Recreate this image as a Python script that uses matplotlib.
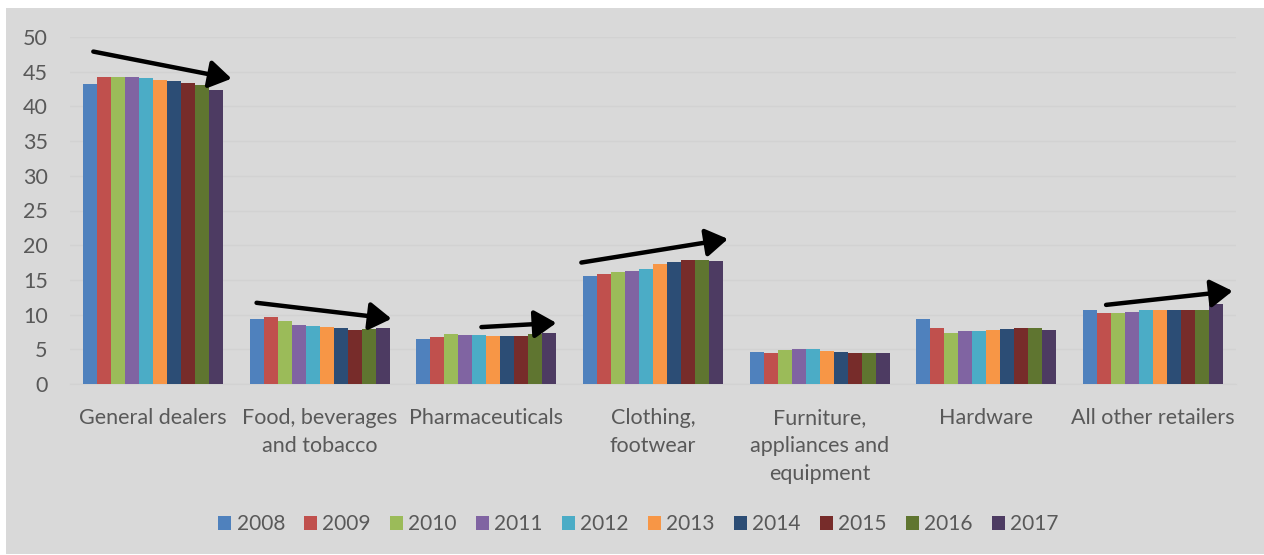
import matplotlib
matplotlib.use("Agg")
import matplotlib.pyplot as plt
import numpy as np
from matplotlib.patches import Rectangle, FancyArrowPatch

plt.rcParams['font.family'] = ['Lato', 'DejaVu Sans']

categories = ["General dealers", "Food, beverages\nand tobacco", "Pharmaceuticals",
              "Clothing,\nfootwear", "Furniture,\nappliances and\nequipment",
              "Hardware", "All other retailers"]
years = ["2008", "2009", "2010", "2011", "2012", "2013", "2014", "2015", "2016", "2017"]

# share per category, one list per year
values = {
    "2008": [43.2, 9.3, 6.5, 15.6, 4.6, 9.4, 10.6],
    "2009": [44.3, 9.6, 6.8, 15.8, 4.4, 8.0, 10.3],
    "2010": [44.3, 9.1, 7.2, 16.1, 4.9, 7.4, 10.2],
    "2011": [44.3, 8.5, 7.0, 16.3, 5.0, 7.6, 10.4],
    "2012": [44.1, 8.4, 7.0, 16.5, 5.0, 7.6, 10.6],
    "2013": [43.8, 8.2, 6.9, 17.3, 4.7, 7.8, 10.6],
    "2014": [43.6, 8.0, 6.9, 17.6, 4.6, 7.9, 10.6],
    "2015": [43.4, 7.8, 6.9, 17.8, 4.5, 8.0, 10.7],
    "2016": [43.1, 7.9, 7.2, 17.9, 4.4, 8.1, 10.6],
    "2017": [42.4, 8.1, 7.3, 17.7, 4.4, 7.8, 11.5],
}
colors = ["#4F81BD", "#C0504D", "#9BBB59", "#8064A2", "#4BACC6",
          "#F79646", "#2C4D75", "#772C2A", "#5F7530", "#4D3B62"]

# trend arrows: (x0, y0) -> (x1, y1) in data units
trends = [
    ((-0.36, 47.9), (0.47, 44.0)),
    ((0.62, 11.7), (1.43, 9.4)),
    ((1.97, 8.2), (2.42, 8.8)),
    ((2.57, 17.5), (3.45, 20.9)),
    ((5.72, 11.4), (6.48, 13.4)),
]

txt = "#595959"
fig = plt.figure(figsize=(12.64, 5.55), dpi=100)
fig.patches.append(Rectangle((6 / 1264, 0.0018), 1, 0.984, transform=fig.transFigure,
                             facecolor="#D9D9D9", edgecolor="none", zorder=-5))

ax = fig.add_axes([70 / 1264, 171 / 555, 1166 / 1264, 347 / 555])
ax.set_facecolor("none")

x = np.arange(len(categories))
bw = 0.084
for i, yr in enumerate(years):
    ax.bar(x + (i - 4.5) * bw, values[yr], bw, color=colors[i], label=yr, zorder=3)

for (x0, y0), (x1, y1) in trends:
    ax.add_patch(FancyArrowPatch((x0, y0), (x1, y1), arrowstyle="-|>,head_length=0.95,head_width=0.6",
                                 mutation_scale=14, lw=3.2, color="black", zorder=5,
                                 shrinkA=0, shrinkB=0))

ax.set_xlim(-0.5, 6.5)
ax.set_ylim(0, 50)
ax.set_yticks(range(0, 51, 5))
ax.grid(axis="y", color="#D2D2D2", lw=1, zorder=0)
for s in ["top", "right", "left"]:
    ax.spines[s].set_visible(False)
ax.spines["bottom"].set_color("#D2D2D2")
ax.tick_params(axis="both", length=0, labelsize=15.5, labelcolor=txt)
ax.tick_params(axis="x", pad=17)
ax.tick_params(axis="y", pad=16)
ax.set_xticks(x)
ax.set_xticklabels(categories, linespacing=1.52)

leg = fig.legend(loc="center", bbox_to_anchor=(0.505, 0.056), ncol=10, frameon=False,
                 fontsize=15, handlelength=0.65, handleheight=0.65, handletextpad=0.25,
                 columnspacing=0.9, labelcolor=txt)

fig.savefig("out.png", dpi=100)
